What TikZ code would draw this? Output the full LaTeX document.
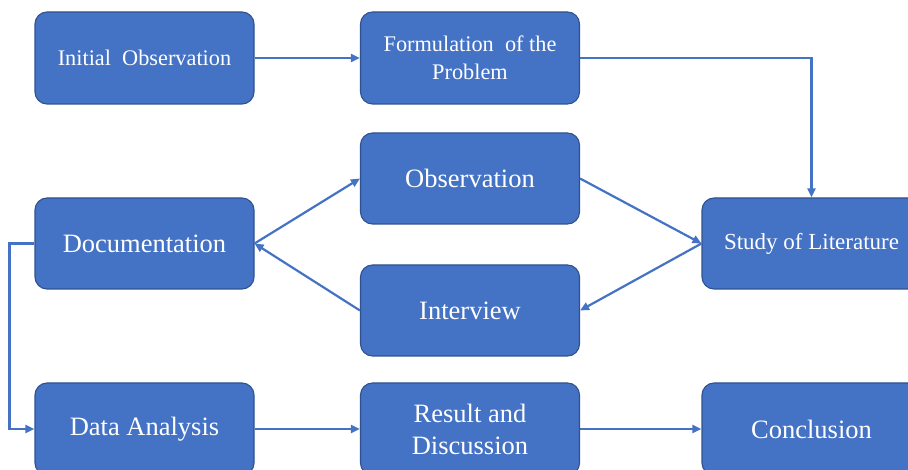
\documentclass[tikz,border=0pt]{standalone}
\usepackage{fontspec}
\setmainfont{Liberation Serif}
\usetikzlibrary{arrows.meta}
\definecolor{boxfill}{HTML}{4472C4}
\definecolor{boxedge}{HTML}{2F528F}
\definecolor{linecol}{HTML}{4472C4}
\tikzset{
  stepbox/.style={rectangle, rounded corners=12pt, fill=boxfill, draw=boxedge, line width=1.1pt,
    minimum width=219pt, minimum height=91pt, inner sep=0pt, align=center, text=white,
    font=\fontsize{26.5}{30}\selectfont},
  smalltext/.style={font=\fontsize{22.3}{28}\selectfont},
  arr/.style={draw=linecol, line width=2.2pt, -{Triangle[length=9pt,width=8pt]}},
}
\begin{document}
\begin{tikzpicture}[x=1pt,y=-1pt]
\clip (0,0) rectangle (908,470);
\fill[white] (0,0) rectangle (908,470);
\node[stepbox, smalltext, minimum height=92pt] (init) at (144.5,58) {Initial\ \ Observation};
\node[stepbox, smalltext, minimum height=92pt] (form) at (470,58) {Formulation\ \ of the\\Problem};
\node[stepbox] (obs) at (470,178.5) {Observation};
\node[stepbox] (doc) at (144.5,243.5) {Documentation};
\node[stepbox] (intv) at (470,310.5) {Interview};
\node[stepbox, font=\fontsize{23}{28}\selectfont] (study) at (811.5,243.5) {Study of Literature};
\node[stepbox, minimum height=92pt] (data) at (144.5,429) {Data Analysis};
\node[stepbox, minimum height=92pt, font=\fontsize{26.5}{32}\selectfont] (res) at (470,429) {Result and\\Discussion};
\node[stepbox, minimum height=92pt] (concl) at (811.5,429) {Conclusion};
\coordinate (bend) at ([xshift=-25pt]doc.west);
\draw[arr] (init.east) -- (form.west);
\draw[arr] (form.east) -| (study.north);
\draw[arr] (obs.east) -- (study.west);
\draw[arr] (study.west) -- (intv.east);
\draw[arr] (intv.west) -- (doc.east);
\draw[arr] (doc.east) -- (obs.west);
\draw[arr] (doc.west) -- (bend) |- (data.west);
\draw[arr] (data.east) -- (res.west);
\draw[arr] (res.east) -- (concl.west);
\end{tikzpicture}
\end{document}
